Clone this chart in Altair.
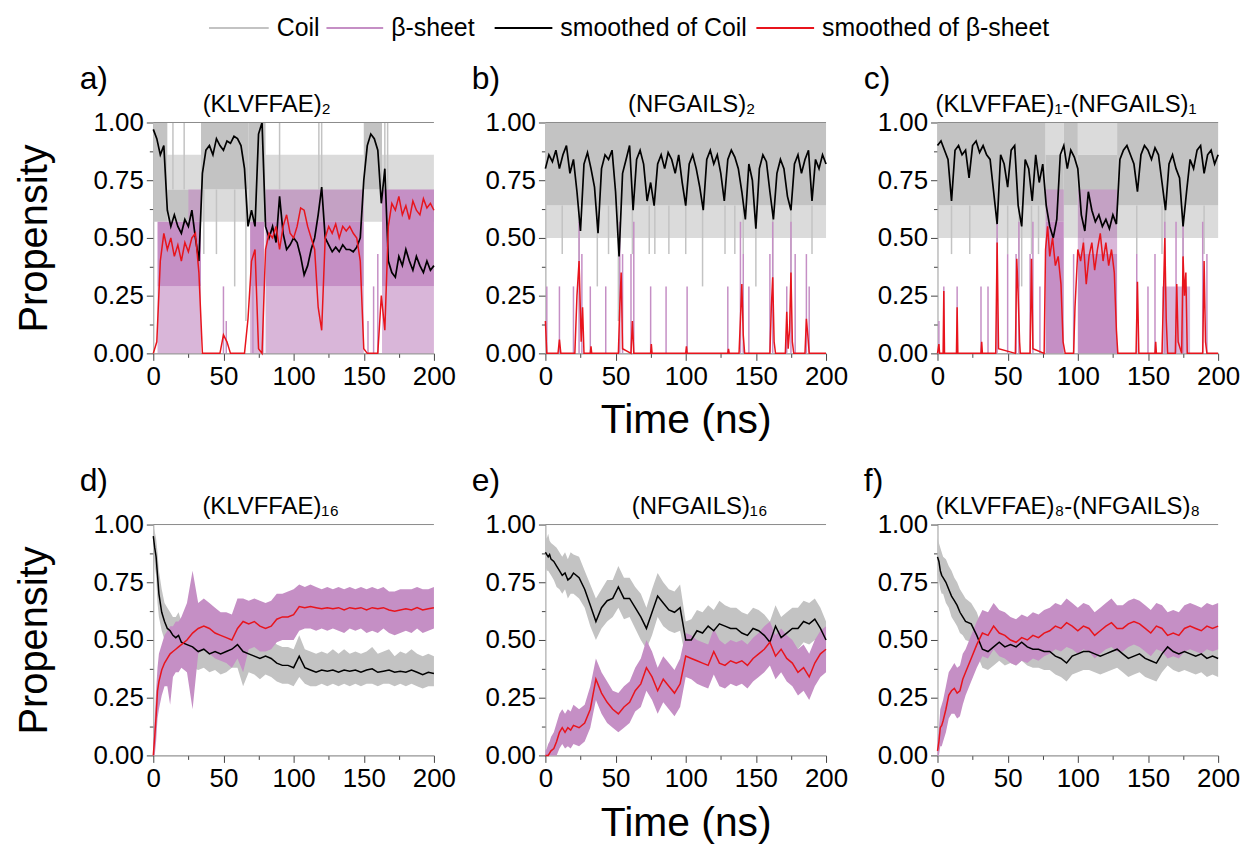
import altair as alt
import pandas as pd

FONT = "Liberation Sans"
GRAY = "#c3c3c3"
PINK = "#c58fc5"
BLACK = "#000000"
RED = "#e8141c"
W, H = 282, 232

# ---------------- sampling grids (ns) ----------------
T_TOP = [i * 2.5 for i in range(81)]
T_BOT = [0, 1, 2, 3, 4, 6, 8, 10, 12, 14, 16, 18, 20] + list(range(24, 201, 4))

LETTERS = ["a)", "b)", "c)", "d)", "e)", "f)"]
TITLES = ["(KLVFFAE)₂", "(NFGAILS)₂", "(KLVFFAE)₁-(NFGAILS)₁",
          "(KLVFFAE)₁₆", "(NFGAILS)₁₆", "(KLVFFAE)₈-(NFGAILS)₈"]
LEGEND_LABELS = ["Coil", "β-sheet", "smoothed of Coil", "smoothed of β-sheet"]
LEGEND_COLORS = [GRAY, PINK, BLACK, RED]

# ================= panel a : (KLVFFAE)2 =================
A_COIL = [0.97,0.93,0.86,0.90,0.62,0.55,0.60,0.55,0.52,0.58,
          0.55,0.62,0.50,0.40,0.78,0.88,0.90,0.86,0.93,0.90,
          0.88,0.92,0.91,0.94,0.93,0.90,0.80,0.55,0.62,0.55,
          0.95,1.00,0.55,0.50,0.55,0.48,0.68,0.52,0.45,0.47,
          0.50,0.48,0.42,0.34,0.38,0.45,0.50,0.60,0.72,0.50,
          0.47,0.44,0.46,0.44,0.47,0.45,0.45,0.44,0.46,0.50,
          0.75,0.90,0.95,0.93,0.88,0.65,0.80,0.40,0.35,0.33,
          0.42,0.38,0.45,0.40,0.36,0.42,0.38,0.35,0.40,0.36,0.38]
A_BETA_T = T_TOP
A_BETA = [0.00,0.05,0.40,0.52,0.45,0.50,0.42,0.47,0.40,0.48,
          0.44,0.50,0.52,0.35,0.00,0.00,0.00,0.00,0.00,0.00,
          0.08,0.05,0.00,0.00,0.00,0.00,0.00,0.15,0.40,0.45,
          0.02,0.00,0.45,0.52,0.50,0.55,0.45,0.55,0.60,0.52,
          0.50,0.55,0.63,0.62,0.55,0.50,0.45,0.20,0.10,0.50,
          0.55,0.52,0.56,0.50,0.55,0.53,0.55,0.52,0.50,0.40,
          0.02,0.00,0.00,0.00,0.00,0.25,0.10,0.55,0.65,0.62,
          0.68,0.60,0.64,0.58,0.66,0.62,0.60,0.67,0.63,0.65,0.62]
A_COIL_DENSE = [(0,10,0.57,1.0),(10,34,0.57,0.71),(34,68,0.71,1.0),(68,80,0.57,1.0),
                (80,150,0.57,0.71),(150,163,0.71,1.0),(163,200,0.57,0.71)]
A_COIL_LIGHT = [(10,34,0.71,0.86),(34,68,0.57,0.71),(80,150,0.71,0.86),
                (150,163,0.57,0.71),(163,200,0.71,0.86)]
A_COIL_SPIKES = [(36,0.43,0.71),(45,0.43,0.71),(58,0.29,0.71),(66,0.14,0.71),(90,0.71,1.0),
                 (118,0.71,1.0),(120,0.71,1.0),(165,0.71,1.0),(167,0.71,1.0),(14,0.71,1.0),(22,0.71,1.0)]
A_BETA_DENSE = [(3,34,0.29,0.57),(69,79,0.29,0.57),(80,150,0.29,0.57),(163,200,0.29,0.71)]
A_BETA_LIGHT = [(3,34,0.0,0.29),(69,79,0.0,0.29),(80,150,0.0,0.29),(163,200,0.0,0.29),
                (25,34,0.57,0.71),(80,150,0.57,0.71)]
A_BETA_SPIKES = [(50,0.0,0.29),(52,0.0,0.14),(71,0.0,0.57),(157,0.0,0.29),(160,0.0,0.43),(153,0.0,0.14)]

# ================= panel b : (NFGAILS)2 =================
B_COIL = [0.80,0.86,0.83,0.88,0.80,0.86,0.90,0.78,0.84,0.70,
          0.53,0.82,0.87,0.80,0.72,0.52,0.80,0.86,0.84,0.88,
          0.70,0.42,0.78,0.84,0.90,0.62,0.84,0.88,0.82,0.66,
          0.74,0.64,0.82,0.86,0.80,0.87,0.84,0.78,0.86,0.74,
          0.64,0.82,0.86,0.80,0.72,0.62,0.84,0.88,0.82,0.86,
          0.78,0.66,0.84,0.88,0.85,0.80,0.70,0.58,0.82,0.75,
          0.54,0.80,0.86,0.83,0.70,0.58,0.78,0.84,0.80,0.68,
          0.62,0.82,0.86,0.78,0.84,0.88,0.66,0.84,0.80,0.86,0.82]
B_BETA_T = [0,1,9,10,11,21,22.5,24,25.5,26.5,27.5,32,32.5,33,52,53,54,55,61,62,63,
            75,75.5,76,100,100.5,101,130,130.5,131,138,139,140,141,142,160,161,162,163,164,
            171,172,173,174,175,176,177,185,186,187,188,200]
B_BETA = [0.14,0.0,0.0,0.06,0.0,0.0,0.25,0.40,0.05,0.20,0.0,0.0,0.03,0.0,0.0,0.20,0.35,0.02,0.0,0.14,0.0,
          0.0,0.04,0.0,0.0,0.03,0.0,0.0,0.02,0.0,0.0,0.15,0.30,0.08,0.0,0.0,0.20,0.33,0.05,0.0,
          0.0,0.18,0.02,0.10,0.35,0.05,0.0,0.0,0.15,0.08,0.0,0.0]
B_COIL_DENSE = [(0,200,0.64,1.0)]
B_COIL_LIGHT = [(0,200,0.50,0.64)]
B_COIL_SPIKES = [(12,0.43,0.64),(24,0.29,0.64),(37,0.29,0.64),(45,0.43,0.64),(52,0.14,0.64),
                 (62,0.43,0.64),(74,0.43,0.64),(78,0.43,0.64),(88,0.43,0.64),(100,0.43,0.64),
                 (112,0.29,0.64),(128,0.43,0.64),(135,0.43,0.64),(141,0.43,0.64),(150,0.29,0.64),
                 (162,0.29,0.64),(175,0.29,0.64),(190,0.43,0.64)]
B_BETA_DENSE = []
B_BETA_LIGHT = []
B_BETA_SPIKES = [(1,0,0.29),(10,0,0.29),(20,0,0.29),(24,0,0.57),(26,0,0.43),(32,0,0.29),
                 (43,0,0.29),(53,0,0.57),(55,0,0.43),(61,0,0.43),(63,0,0.57),(75,0,0.29),
                 (86,0,0.29),(101,0,0.29),(130,0,0.29),(139,0,0.57),(141,0,0.43),(145,0,0.29),
                 (160,0,0.43),(162,0,0.57),(172,0,0.29),(175,0,0.57),(178,0,0.43),(186,0,0.43),
                 (188,0,0.29)]

# ================= panel c : (KLVFFAE)1-(NFGAILS)1 =================
C_COIL = [0.90,0.92,0.88,0.84,0.66,0.88,0.90,0.86,0.88,0.76,
          0.90,0.92,0.87,0.90,0.86,0.84,0.70,0.56,0.86,0.82,
          0.72,0.88,0.90,0.64,0.55,0.84,0.80,0.66,0.86,0.74,
          0.82,0.64,0.55,0.50,0.58,0.86,0.90,0.80,0.88,0.85,
          0.80,0.60,0.53,0.70,0.62,0.57,0.60,0.55,0.58,0.54,
          0.60,0.56,0.84,0.88,0.90,0.86,0.82,0.70,0.86,0.90,
          0.88,0.84,0.89,0.86,0.74,0.62,0.82,0.86,0.80,0.76,
          0.55,0.70,0.84,0.80,0.88,0.90,0.78,0.86,0.88,0.82,0.86]
C_BETA_T = [0,1,1.5,4,4.5,5,13.5,14,14.5,31,31.5,32,41.5,42.5,43.5,55.5,56.5,57.5,58.5,59,
            66,67,68,76,77,78.5,80,82,84,86,88,89.5,91,97,98,100,102,104,106,108,110,112,
            114,116,118,120,122,124,126,127.5,128.5,141.5,142.5,143.5,155,155.5,156,160,161,
            162,163,164,169.5,170.5,171.5,174,175,176,177,178,189,190,191,192,200]
C_BETA = [0.0,0.04,0.0,0.0,0.27,0.0,0.0,0.20,0.0,0.0,0.05,0.0,0.0,0.48,0.02,0.0,0.41,0.25,0.05,0.0,
          0.0,0.41,0.02,0.0,0.45,0.55,0.42,0.50,0.38,0.42,0.30,0.05,0.0,0.0,0.20,0.45,0.40,0.48,
          0.30,0.42,0.48,0.36,0.45,0.52,0.40,0.48,0.38,0.45,0.35,0.10,0.0,0.0,0.31,0.0,0.0,0.05,
          0.0,0.0,0.25,0.50,0.15,0.0,0.0,0.30,0.05,0.0,0.42,0.25,0.35,0.0,0.0,0.40,0.05,0.0,0.0]
C_COIL_DENSE = [(0,77,0.64,1.0),(77,90,0.57,0.86),(90,100,0.64,1.0),(100,128,0.50,0.86),(128,200,0.64,1.0)]
C_COIL_LIGHT = [(0,77,0.50,0.64),(77,90,0.86,1.0),(90,100,0.50,0.64),(100,128,0.86,1.0),(128,200,0.50,0.64)]
C_COIL_SPIKES = [(10,0.43,0.64),(23,0.43,0.64),(42.5,0.29,0.64),(50,0.43,0.64),(58,0.29,0.64),
                 (60,0.29,0.64),(67,0.43,0.64),(72,0.43,0.64),(104,0.29,0.50),(142,0.43,0.64),
                 (160,0.43,0.64),(162,0.29,0.64),(175,0.29,0.64),(190,0.43,0.64)]
C_BETA_DENSE = [(77,90,0.0,0.57),(100,128,0.0,0.43)]
C_BETA_LIGHT = [(77,90,0.57,0.71),(100,128,0.43,0.71),(160,180,0.0,0.29)]
C_BETA_SPIKES = [(1,0,0.14),(4.5,0,0.29),(14,0,0.29),(31,0,0.29),(36,0,0.29),(42.5,0,0.57),
                 (50,0,0.43),(56,0,0.43),(58,0,0.57),(66,0,0.43),(68,0,0.57),(73,0,0.29),
                 (97,0,0.43),(142,0,0.43),(150,0,0.29),(155,0,0.43),(162,0,0.57),(170,0,0.57),
                 (175,0,0.57),(189,0,0.57),(192,0,0.43)]

# ================= panel d : (KLVFFAE)16 =================
D_COIL = [0.95,0.90,0.86,0.78,0.70,0.62,0.58,0.55,0.54,0.52,0.51,0.52,0.49,
          0.48,0.47,0.45,0.46,0.44,0.45,0.44,0.45,0.46,0.48,
          0.45,0.44,0.43,0.42,0.43,0.42,0.40,0.39,0.39,0.38,
          0.43,0.38,0.37,0.36,0.37,0.365,0.37,0.36,0.37,0.365,
          0.37,0.36,0.37,0.375,0.36,0.365,0.37,0.36,0.365,0.36,
          0.37,0.36,0.35,0.36,0.355]
D_BETA = [0.00,0.08,0.17,0.28,0.32,0.37,0.40,0.42,0.44,0.45,0.46,0.47,0.48,
          0.50,0.53,0.55,0.56,0.55,0.53,0.52,0.51,0.50,0.55,
          0.58,0.57,0.58,0.56,0.55,0.56,0.59,0.60,0.60,0.61,
          0.645,0.64,0.645,0.64,0.635,0.64,0.635,0.64,0.63,0.64,
          0.635,0.64,0.63,0.64,0.635,0.64,0.63,0.625,0.63,0.635,
          0.63,0.64,0.63,0.635,0.64]
D_COIL_LO = [0.90,0.82,0.78,0.66,0.60,0.54,0.50,0.46,0.44,0.43,0.42,0.44,0.40,
             0.36,0.38,0.37,0.38,0.36,0.37,0.35,0.36,0.38,0.38,
             0.30,0.36,0.35,0.33,0.35,0.34,0.32,0.31,0.31,0.30,
             0.34,0.31,0.30,0.30,0.31,0.30,0.31,0.30,0.31,0.30,
             0.31,0.30,0.31,0.31,0.30,0.31,0.31,0.30,0.31,0.30,
             0.31,0.30,0.29,0.30,0.30]
D_COIL_HI = [1.00,0.97,0.94,0.88,0.80,0.72,0.66,0.64,0.62,0.60,0.60,0.62,0.58,
             0.62,0.56,0.55,0.56,0.53,0.54,0.53,0.56,0.55,0.58,
             0.55,0.53,0.52,0.52,0.51,0.50,0.48,0.47,0.47,0.46,
             0.52,0.46,0.45,0.44,0.45,0.44,0.46,0.44,0.46,0.44,
             0.45,0.44,0.45,0.47,0.44,0.45,0.46,0.43,0.45,0.44,
             0.46,0.44,0.43,0.44,0.43]
D_BETA_LO = [0.00,0.00,0.06,0.16,0.20,0.26,0.30,0.30,0.22,0.34,0.36,0.36,0.38,
             0.36,0.20,0.44,0.46,0.44,0.42,0.41,0.40,0.38,0.42,
             0.36,0.46,0.47,0.45,0.45,0.46,0.49,0.50,0.50,0.50,
             0.54,0.55,0.55,0.54,0.55,0.54,0.55,0.54,0.53,0.55,
             0.54,0.55,0.53,0.54,0.53,0.55,0.53,0.52,0.53,0.54,
             0.53,0.55,0.53,0.54,0.55]
D_BETA_HI = [0.05,0.16,0.28,0.38,0.44,0.48,0.52,0.54,0.56,0.56,0.58,0.58,0.60,
             0.66,0.80,0.66,0.68,0.66,0.64,0.62,0.62,0.61,0.68,
             0.68,0.67,0.68,0.67,0.66,0.67,0.70,0.70,0.71,0.72,
             0.74,0.73,0.74,0.73,0.72,0.73,0.72,0.73,0.72,0.73,
             0.72,0.73,0.72,0.73,0.72,0.73,0.71,0.71,0.72,0.72,
             0.72,0.73,0.72,0.72,0.73]

# ================= panel e : (NFGAILS)16 =================
E_COIL = [0.88,0.87,0.86,0.87,0.85,0.84,0.82,0.80,0.78,0.79,0.76,0.77,0.79,
          0.77,0.72,0.65,0.58,0.64,0.67,0.68,0.73,0.68,0.68,
          0.64,0.60,0.55,0.62,0.69,0.66,0.63,0.62,0.64,0.50,
          0.50,0.54,0.53,0.56,0.54,0.57,0.56,0.55,0.55,0.53,
          0.52,0.55,0.54,0.52,0.49,0.56,0.51,0.53,0.55,0.55,
          0.58,0.57,0.59,0.55,0.50]
E_BETA = [0.00,0.00,0.00,0.01,0.02,0.03,0.06,0.10,0.12,0.10,0.12,0.11,0.13,
          0.12,0.14,0.20,0.33,0.27,0.23,0.20,0.18,0.21,0.23,
          0.28,0.31,0.38,0.34,0.28,0.33,0.30,0.27,0.31,0.43,
          0.42,0.41,0.40,0.39,0.45,0.40,0.39,0.41,0.40,0.41,
          0.39,0.42,0.44,0.46,0.49,0.43,0.46,0.42,0.40,0.36,
          0.38,0.34,0.40,0.44,0.46]
E_COIL_LO = [0.82,0.80,0.80,0.79,0.78,0.76,0.73,0.72,0.70,0.72,0.68,0.70,0.70,
             0.68,0.64,0.56,0.50,0.55,0.58,0.60,0.64,0.59,0.60,
             0.55,0.50,0.46,0.52,0.60,0.56,0.54,0.53,0.54,0.42,
             0.42,0.46,0.45,0.47,0.45,0.48,0.47,0.46,0.46,0.44,
             0.43,0.46,0.45,0.43,0.41,0.47,0.42,0.44,0.46,0.46,
             0.49,0.48,0.50,0.46,0.42]
E_COIL_HI = [0.95,0.94,0.96,0.93,0.92,0.91,0.90,0.88,0.86,0.88,0.85,0.88,0.87,
             0.86,0.80,0.74,0.68,0.72,0.76,0.76,0.82,0.77,0.77,
             0.73,0.70,0.64,0.72,0.79,0.75,0.72,0.71,0.74,0.58,
             0.59,0.63,0.62,0.65,0.63,0.67,0.65,0.64,0.64,0.62,
             0.61,0.64,0.63,0.61,0.58,0.65,0.60,0.62,0.64,0.64,
             0.67,0.66,0.68,0.64,0.58]
E_BETA_LO = [0.00,0.00,0.00,0.00,0.00,0.00,0.00,0.03,0.05,0.03,0.04,0.03,0.05,
             0.04,0.06,0.12,0.24,0.18,0.14,0.12,0.10,0.12,0.14,
             0.19,0.21,0.28,0.24,0.18,0.23,0.20,0.17,0.21,0.34,
             0.33,0.31,0.30,0.29,0.35,0.30,0.29,0.31,0.30,0.31,
             0.29,0.32,0.34,0.36,0.39,0.33,0.36,0.32,0.30,0.26,
             0.28,0.24,0.30,0.34,0.36]
E_BETA_HI = [0.02,0.03,0.05,0.06,0.08,0.10,0.14,0.18,0.20,0.18,0.20,0.19,0.22,
             0.20,0.22,0.30,0.42,0.36,0.32,0.28,0.27,0.30,0.32,
             0.38,0.42,0.50,0.45,0.38,0.43,0.40,0.37,0.42,0.53,
             0.52,0.50,0.49,0.48,0.55,0.50,0.48,0.50,0.49,0.50,
             0.48,0.51,0.53,0.56,0.58,0.52,0.55,0.52,0.50,0.46,
             0.48,0.44,0.50,0.54,0.56]

# ================= panel f : (KLVFFAE)8-(NFGAILS)8 =================
F_COIL = [0.86,0.84,0.80,0.78,0.77,0.75,0.72,0.69,0.67,0.65,0.62,0.60,0.58,
          0.57,0.52,0.46,0.45,0.47,0.49,0.47,0.48,0.47,0.49,
          0.47,0.46,0.46,0.45,0.45,0.43,0.42,0.40,0.43,0.44,
          0.45,0.45,0.44,0.43,0.44,0.45,0.46,0.44,0.42,0.43,
          0.44,0.42,0.41,0.40,0.44,0.47,0.45,0.44,0.45,0.44,
          0.43,0.44,0.42,0.43,0.42]
F_BETA = [0.02,0.06,0.12,0.13,0.15,0.20,0.26,0.28,0.29,0.27,0.28,0.33,0.36,
          0.42,0.48,0.53,0.52,0.56,0.53,0.52,0.50,0.49,0.51,
          0.50,0.52,0.51,0.53,0.54,0.56,0.55,0.575,0.56,0.54,
          0.56,0.55,0.52,0.54,0.56,0.575,0.55,0.55,0.57,0.58,
          0.57,0.55,0.53,0.56,0.55,0.52,0.53,0.52,0.55,0.56,
          0.55,0.54,0.56,0.55,0.56]
F_COIL_LO = [0.78,0.76,0.72,0.70,0.70,0.66,0.64,0.60,0.58,0.56,0.53,0.52,0.50,
             0.49,0.44,0.38,0.37,0.39,0.41,0.39,0.40,0.39,0.41,
             0.39,0.38,0.38,0.37,0.37,0.35,0.34,0.32,0.35,0.36,
             0.37,0.37,0.36,0.35,0.36,0.37,0.38,0.36,0.34,0.35,
             0.36,0.34,0.33,0.32,0.36,0.39,0.37,0.36,0.37,0.36,
             0.35,0.36,0.34,0.35,0.34]
F_COIL_HI = [0.94,0.92,0.90,0.88,0.86,0.85,0.82,0.80,0.77,0.75,0.72,0.70,0.68,
             0.66,0.62,0.55,0.54,0.56,0.58,0.56,0.57,0.56,0.58,
             0.56,0.55,0.55,0.54,0.54,0.52,0.51,0.49,0.52,0.53,
             0.54,0.54,0.53,0.52,0.53,0.54,0.55,0.53,0.51,0.52,
             0.53,0.51,0.50,0.49,0.53,0.56,0.54,0.53,0.54,0.53,
             0.52,0.53,0.51,0.52,0.50]
F_BETA_LO = [0.00,0.00,0.04,0.04,0.06,0.10,0.16,0.18,0.18,0.16,0.17,0.22,0.26,
             0.32,0.38,0.43,0.42,0.46,0.43,0.42,0.40,0.39,0.41,
             0.40,0.42,0.41,0.43,0.44,0.46,0.45,0.47,0.46,0.44,
             0.46,0.45,0.42,0.44,0.46,0.47,0.45,0.45,0.47,0.48,
             0.47,0.45,0.43,0.46,0.45,0.42,0.43,0.42,0.45,0.46,
             0.45,0.44,0.46,0.45,0.46]
F_BETA_HI = [0.06,0.12,0.20,0.22,0.24,0.30,0.36,0.38,0.40,0.38,0.39,0.44,0.46,
             0.52,0.58,0.63,0.62,0.66,0.63,0.62,0.60,0.59,0.61,
             0.60,0.62,0.61,0.63,0.64,0.66,0.65,0.68,0.66,0.64,
             0.66,0.65,0.62,0.64,0.66,0.68,0.65,0.65,0.67,0.68,
             0.67,0.65,0.63,0.66,0.65,0.62,0.63,0.62,0.65,0.66,
             0.65,0.64,0.66,0.65,0.66]

# ---------------- layout constants (pixels, not data) ----------------
LETTER_DX, LETTER_DY = -74, -34
TITLE_POS = [(114, "center"), (147, "center"), (-2, "left"),
             (118, "center"), (155, "center"), (-2, "left")]
TITLE_DY = -11
LEG_Y = -95
LEG_X = [(-338, -278, -270), (-220, -163, -155), (-51, 7, 15), (212, 270, 278)]

XS = alt.Scale(domain=[0, 200], nice=False, zero=False)
YS = alt.Scale(domain=[0, 1], nice=False)


def x_axis(show_title):
    return alt.Axis(
        values=list(range(0, 201, 25)),
        labelExpr="datum.value % 50 === 0 ? datum.label : ''",
        labelOverlap=False, labelFlush=False,
        labelFont=FONT, labelFontSize=26, labelColor="#000", labelPadding=3,
        tickSize={"condition": {"test": "datum.value % 50 === 0", "value": 7}, "value": 4},
        tickColor="#444", domainColor="#777", grid=False,
        title="Time (ns)" if show_title else None,
        titleFont=FONT, titleFontSize=41, titleFontWeight="normal", titleColor="#000",
        titlePadding=12,
    )


def y_axis(show_title):
    return alt.Axis(
        values=[i * 0.125 for i in range(9)],
        format=".2f",
        labelExpr="datum.value % 0.25 === 0 ? datum.label : ''",
        labelOverlap=False, labelFlush=False,
        labelFont=FONT, labelFontSize=26, labelColor="#000", labelPadding=3,
        tickSize={"condition": {"test": "datum.value % 0.25 === 0", "value": 7}, "value": 4},
        tickColor="#444", domainColor="#999", grid=False,
        title="Propensity" if show_title else None,
        titleFont=FONT, titleFontSize=40, titleFontWeight="normal", titleColor="#000",
        titlePadding=39,
    )


def text_layer(s, x, y, size, align="left", baseline="alphabetic"):
    return alt.Chart(pd.DataFrame({"s": [s]})).mark_text(
        font=FONT, fontSize=size, align=align, baseline=baseline, color="#000"
    ).encode(text="s:N", x=alt.value(x), y=alt.value(y))


def rect_layers(rows, color, opacity, xa, ya):
    if not rows:
        return []
    df = pd.DataFrame(rows, columns=["t0", "t1", "lo", "hi"])
    return [alt.Chart(df).mark_rect(color=color, opacity=opacity).encode(
        x=alt.X("t0:Q", scale=XS, axis=xa), x2="t1:Q",
        y=alt.Y("lo:Q", scale=YS, axis=ya), y2="hi:Q")]


def spike_layers(rows, color, xa, ya):
    if not rows:
        return []
    df = pd.DataFrame(rows, columns=["t", "lo", "hi"])
    return [alt.Chart(df).mark_rule(color=color, strokeWidth=1.5).encode(
        x=alt.X("t:Q", scale=XS, axis=xa),
        y=alt.Y("lo:Q", scale=YS, axis=ya), y2="hi:Q")]


def line_layer(tgrid, vals, color, width, xa, ya):
    df = pd.DataFrame({"t": tgrid, "v": vals})
    return alt.Chart(df).mark_line(color=color, strokeWidth=width).encode(
        x=alt.X("t:Q", scale=XS, axis=xa), y=alt.Y("v:Q", scale=YS, axis=ya))


def band_layer(tgrid, lo, hi, color, xa, ya):
    df = pd.DataFrame({"t": tgrid, "lo": lo, "hi": hi})
    return alt.Chart(df).mark_area(color=color, opacity=1).encode(
        x=alt.X("t:Q", scale=XS, axis=xa),
        y=alt.Y("lo:Q", scale=YS, axis=ya), y2="hi:Q")


def decorations(i):
    tx, talign = TITLE_POS[i]
    frame = alt.Chart(pd.DataFrame({"k": [0]})).mark_rule(color="#8a8a8a", strokeWidth=1).encode(
        x=alt.value(0), x2=alt.value(W), y=alt.value(0))
    return [frame,
            text_layer(LETTERS[i], LETTER_DX, LETTER_DY, 32),
            text_layer(TITLES[i], tx, TITLE_DY, 24, align=talign)]


def legend_layers():
    out = []
    for (x0, x1, xt), lab, col in zip(LEG_X, LEGEND_LABELS, LEGEND_COLORS):
        out.append(alt.Chart(pd.DataFrame({"k": [0]})).mark_rule(color=col, strokeWidth=2).encode(
            x=alt.value(x0), x2=alt.value(x1), y=alt.value(LEG_Y)))
        out.append(text_layer(lab, xt, LEG_Y, 25, align="left", baseline="middle"))
    return out


def top_panel(i, coil, beta_t, beta, cd, cl, cs, bd, bl, bs, ytitle, xtitle, legend=False):
    xa, ya = x_axis(xtitle), y_axis(ytitle)
    layers = []
    layers += rect_layers(cl, GRAY, 0.6, xa, ya)
    layers += rect_layers(cd, GRAY, 1.0, xa, ya)
    layers += spike_layers(cs, GRAY, xa, ya)
    layers += rect_layers(bd, PINK, 1.0, xa, ya)
    layers += rect_layers(bl, PINK, 0.65, xa, ya)
    layers += spike_layers(bs, PINK, xa, ya)
    layers.append(line_layer(T_TOP, coil, BLACK, 1.7, xa, ya))
    layers.append(line_layer(beta_t, beta, RED, 1.5, xa, ya))
    layers += decorations(i)
    if legend:
        layers += legend_layers()
    return alt.layer(*layers).properties(width=W, height=H)


def bottom_panel(i, coil, beta, clo, chi, blo, bhi, ytitle, xtitle):
    xa, ya = x_axis(xtitle), y_axis(ytitle)
    layers = [band_layer(T_BOT, clo, chi, GRAY, xa, ya),
              band_layer(T_BOT, blo, bhi, PINK, xa, ya),
              line_layer(T_BOT, coil, BLACK, 1.5, xa, ya),
              line_layer(T_BOT, beta, RED, 1.5, xa, ya)]
    layers += decorations(i)
    return alt.layer(*layers).properties(width=W, height=H)


pa = top_panel(0, A_COIL, A_BETA_T, A_BETA, A_COIL_DENSE, A_COIL_LIGHT, A_COIL_SPIKES,
               A_BETA_DENSE, A_BETA_LIGHT, A_BETA_SPIKES, True, False)
pb = top_panel(1, B_COIL, B_BETA_T, B_BETA, B_COIL_DENSE, B_COIL_LIGHT, B_COIL_SPIKES,
               B_BETA_DENSE, B_BETA_LIGHT, B_BETA_SPIKES, False, True, legend=True)
pc = top_panel(2, C_COIL, C_BETA_T, C_BETA, C_COIL_DENSE, C_COIL_LIGHT, C_COIL_SPIKES,
               C_BETA_DENSE, C_BETA_LIGHT, C_BETA_SPIKES, False, False)
pd_ = bottom_panel(3, D_COIL, D_BETA, D_COIL_LO, D_COIL_HI, D_BETA_LO, D_BETA_HI, True, False)
pe = bottom_panel(4, E_COIL, E_BETA, E_COIL_LO, E_COIL_HI, E_BETA_LO, E_BETA_HI, False, True)
pf = bottom_panel(5, F_COIL, F_BETA, F_COIL_LO, F_COIL_HI, F_BETA_LO, F_BETA_HI, False, False)

chart = alt.concat(pa, pb, pc, pd_, pe, pf, columns=3,
                   spacing={"row": 172, "column": 112}, bounds="flush").configure_view(
    stroke="transparent").properties(background="white")

chart.save("out.html", embed_options={"renderer": "svg", "actions": False})
